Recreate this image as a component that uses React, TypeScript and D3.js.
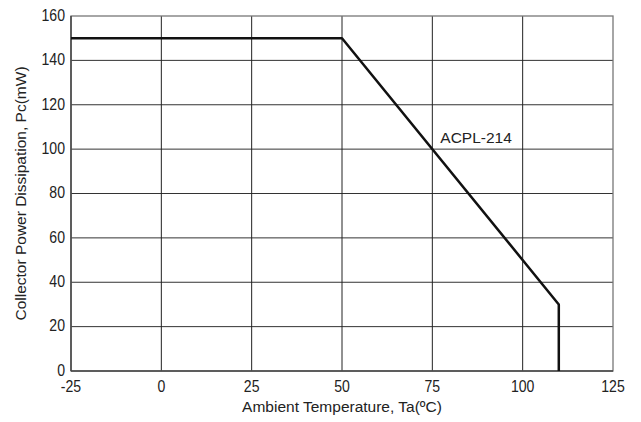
import * as d3 from 'd3';

const xTicks = [-25, 0, 25, 50, 75, 100, 125];
const yTicks = [0, 20, 40, 60, 80, 100, 120, 140, 160];
const temps = [-25, 50, 110, 110];
const power = [150, 150, 30, 0];
const seriesLabel = 'ACPL-214';

export default function App() {
  const width = 641;
  const height = 422;
  const margin = { top: 16, right: 28, bottom: 51, left: 71 };

  const x = d3.scaleLinear().domain([-25, 125]).range([margin.left, width - margin.right]);
  const y = d3.scaleLinear().domain([0, 160]).range([height - margin.bottom, margin.top]);

  const pts = temps.map((t, i) => [t, power[i]] as [number, number]);
  const line = d3.line<[number, number]>().x((d) => x(d[0])).y((d) => y(d[1]));

  const font = '"Liberation Sans", Arial, sans-serif';
  // tick digits look narrower than the titles
  const squeeze = 0.88;

  return (
    <svg
      width={width}
      height={height}
      style={{ position: 'absolute', left: 0, top: 0, background: '#fff' }}
      fontFamily={font}
    >
      {yTicks.slice(1, -1).map((v) => (
        <line key={'h' + v} x1={x(-25)} x2={x(125)} y1={y(v)} y2={y(v)} stroke="#333" strokeWidth={1} />
      ))}
      {xTicks.slice(1, -1).map((v) => (
        <line key={'v' + v} x1={x(v)} x2={x(v)} y1={y(0)} y2={y(160)} stroke="#222" strokeWidth={1} />
      ))}
      <rect
        x={x(-25)}
        y={y(160)}
        width={x(125) - x(-25)}
        height={y(0) - y(160)}
        fill="none"
        stroke="#777"
        strokeWidth={1.3}
      />
      <line x1={x(-25)} x2={x(125)} y1={y(0)} y2={y(0)} stroke="#444" strokeWidth={1.5} />
      <line x1={x(-25)} x2={x(-25)} y1={y(0)} y2={y(160)} stroke="#444" strokeWidth={1.5} />
      <path d={line(pts) as string} fill="none" stroke="#111" strokeWidth={2.5} strokeLinejoin="round" />
      <text x={x(75) + 8} y={y(100) - 6} fontSize={15.5} fill="#222">
        {seriesLabel}
      </text>
      {yTicks.map((v) => (
        <text
          key={'yl' + v}
          transform={`translate(${x(-25) - 6},${y(v)}) scale(${squeeze},1)`}
          dy="0.3em"
          textAnchor="end"
          fontSize={16}
          fill="#222"
        >
          {v}
        </text>
      ))}
      {xTicks.map((v) => (
        <text
          key={'xl' + v}
          transform={`translate(${x(v)},${y(0) + 21}) scale(${squeeze},1)`}
          textAnchor="middle"
          fontSize={16}
          fill="#222"
        >
          {v}
        </text>
      ))}
      <text x={x(50)} y={y(0) + 41} textAnchor="middle" fontSize={15.5} fill="#222">
        Ambient Temperature, Ta(ºC)
      </text>
      <text
        transform={`translate(26,${(y(0) + y(160)) / 2}) rotate(-90)`}
        textAnchor="middle"
        fontSize={15.5}
        fill="#222"
      >
        Collector Power Dissipation, Pc(mW)
      </text>
    </svg>
  );
}
